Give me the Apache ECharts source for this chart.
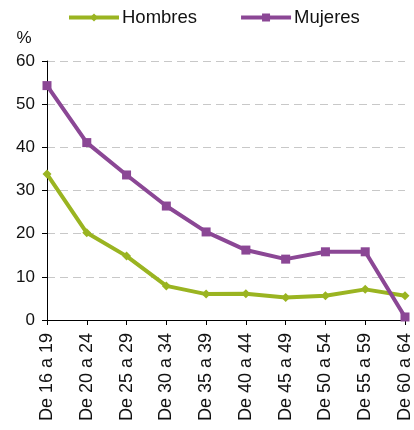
<!DOCTYPE html>
<html><head><meta charset="utf-8">
<script src="https://cdn.jsdelivr.net/npm/echarts@6/dist/echarts.min.js"></script>
<style>html,body{margin:0;padding:0;background:#fff}#c{width:414px;height:430px}</style>
</head><body><div id="c"></div>
<script>
const categories = ["De 16 a 19","De 20 a 24","De 25 a 29","De 30 a 34","De 35 a 39","De 40 a 44","De 45 a 49","De 50 a 54","De 55 a 59","De 60 a 64"];
const hombres = [33.8, 20.2, 14.8, 7.9, 6.0, 6.1, 5.2, 5.6, 7.1, 5.6];
const mujeres = [54.3, 41.1, 33.6, 26.4, 20.4, 16.2, 14.1, 15.8, 15.8, 0.7];
const yTicks = {min: 0, max: 60, interval: 10};

const chart = echarts.init(document.getElementById('c'), null, {renderer: 'canvas'});
chart.setOption({
  animation: false,
  textStyle: {fontFamily: 'Liberation Sans, Arial, sans-serif'},
  legend: {
    top: 3, left: 62,
    itemWidth: 50, itemHeight: 10, itemGap: 42,
    lineStyle: {width: 4},
    textStyle: {fontSize: 18.5, color: '#111', padding: [0,0,0,-2]},
    data: ['Hombres', 'Mujeres']
  },
  grid: {left: 47, right: 7, top: 61, bottom: 110, containLabel: false},
  xAxis: {
    type: 'category', data: categories, boundaryGap: false,
    axisLine: {lineStyle: {color: '#000', width: 1}},
    axisTick: {alignWithLabel: true, length: 5, lineStyle: {color: '#000'}},
    axisLabel: {rotate: 90, fontSize: 18, color: '#111', margin: 13, interval: 0}
  },
  yAxis: {
    type: 'value', min: yTicks.min, max: yTicks.max, interval: yTicks.interval,
    name: '%', nameLocation: 'end', nameGap: 14,
    nameTextStyle: {fontSize: 17, color: '#111', padding: [0, 46, 0, 0]},
    axisLine: {show: true, lineStyle: {color: '#000', width: 1}},
    axisTick: {show: true, length: 5, lineStyle: {color: '#000'}},
    axisLabel: {fontSize: 17, color: '#111', margin: 12},
    splitLine: {lineStyle: {color: '#c8c8c8', type: [8, 5], width: 1}}
  },
  series: [
    {name: 'Hombres', type: 'line', data: hombres, symbol: 'diamond', symbolSize: 9,
     lineStyle: {color: '#9AB421', width: 4}, itemStyle: {color: '#9AB421'}},
    {name: 'Mujeres', type: 'line', data: mujeres, symbol: 'rect', symbolSize: 9,
     lineStyle: {color: '#8B4795', width: 4}, itemStyle: {color: '#8B4795'}}
  ]
});
</script></body></html>
